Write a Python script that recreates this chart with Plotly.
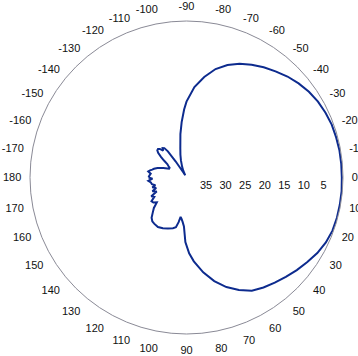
import plotly.graph_objects as go

# Measured azimuth pattern: bearing (deg, clockwise from boresight) and level below peak (dB)
bearing_deg = [
    -180, -177, -174, -171, -169, -167, -165, -162, -158, -155, -153, -150, -148,
    -145, -143, -141, -139, -137, -135, -133, -131, -129, -127, -125.5, -124, -122,
    -120, -118, -115, -112, -108, -105, -102, -98, -95, -92, -90, -85, -80, -75,
    -70, -65, -60, -55, -50, -45, -40, -35, -30, -25, -20, -15, -10, -5, 0,
    5, 10, 15, 20, 25, 30, 35, 40, 45, 50, 55, 60, 65, 70, 75, 80, 85, 88, 91,
    93, 95, 97, 98.5, 100, 102, 105, 110, 115, 120, 125, 128, 131, 134, 137,
    140, 143, 146, 149, 152, 155, 158, 161, 164, 166, 169, 172, 175, 178, 180,
]
level_db = [
    30.3, 30.5, 30.8, 30.1, 30.5, 31.0, 31.4, 32.2, 33.6, 34.6, 35.0, 35.0, 34.6,
    34.0, 32.8, 31.6, 30.4, 29.8, 29.7, 30.0, 30.9, 30.3, 30.6, 31.8, 35.0, 38.5,
    39.3, 39.2, 38.0, 37.0, 35.4, 34.0, 32.4, 28.8, 25.8, 22.6, 20.6, 16.8, 13.9, 11.3,
    9.4, 7.9, 6.7, 5.6, 4.6, 3.5, 2.6, 1.8, 1.2, 0.8, 0.5, 0.4, 0.3, 0.3, 0.3,
    0.2, 0.2, 0.2, 0.3, 0.7, 1.4, 2.3, 3.2, 4.1, 4.9, 5.7, 6.6, 8.3, 10.2, 12.6, 15.4, 18.5, 20.6, 23.5,
    27.5, 28.6, 29.4, 29.8, 28.4, 27.0, 26.6, 26.1, 25.7, 25.4, 25.6, 25.8, 26.4, 27.6, 28.6,
    30.1, 29.4, 29.2, 30.4, 29.8, 31.6, 30.6, 31.8, 30.9, 31.8, 31.0, 30.8, 30.2, 31.3, 30.3,
]

# Angular ticks every 10 degrees (labelled -170..180), radial ticks in dB
angle_ticks = list(range(0, 360, 10))
angle_labels = [str(a if a <= 180 else a - 360) for a in angle_ticks]
radial_ticks = [5, 10, 15, 20, 25, 30, 35]

label_font = dict(family="Liberation Sans Narrow, Arial Narrow, Liberation Sans, Arial", size=11, color="#111111")

fig = go.Figure()
fig.add_trace(go.Scatterpolar(
    r=level_db,
    theta=bearing_deg,
    mode="lines",
    line=dict(color="#0d2b8e", width=2),
    hoverinfo="skip",
    showlegend=False,
))

fig.update_layout(
    width=358,
    height=356,
    margin=dict(l=30, r=15, t=20, b=21),
    paper_bgcolor="white",
    plot_bgcolor="white",
    polar=dict(
        bgcolor="white",
        angularaxis=dict(
            rotation=0,
            direction="clockwise",
            tickmode="array",
            tickvals=angle_ticks,
            ticktext=angle_labels,
            tickfont=label_font,
            showline=True,
            linecolor="#8a8a96",
            linewidth=1,
            showgrid=False,
            ticks="outside",
            ticklen=6,
            tickcolor="rgba(0,0,0,0)",
        ),
        radialaxis=dict(
            range=[40, 0],
            angle=0,
            tickangle=0,
            tickmode="array",
            tickvals=radial_ticks,
            ticktext=[str(v) for v in radial_ticks],
            tickfont=label_font,
            showline=False,
            showgrid=False,
            ticks="",
        ),
    ),
)

fig.write_html("out.html")
